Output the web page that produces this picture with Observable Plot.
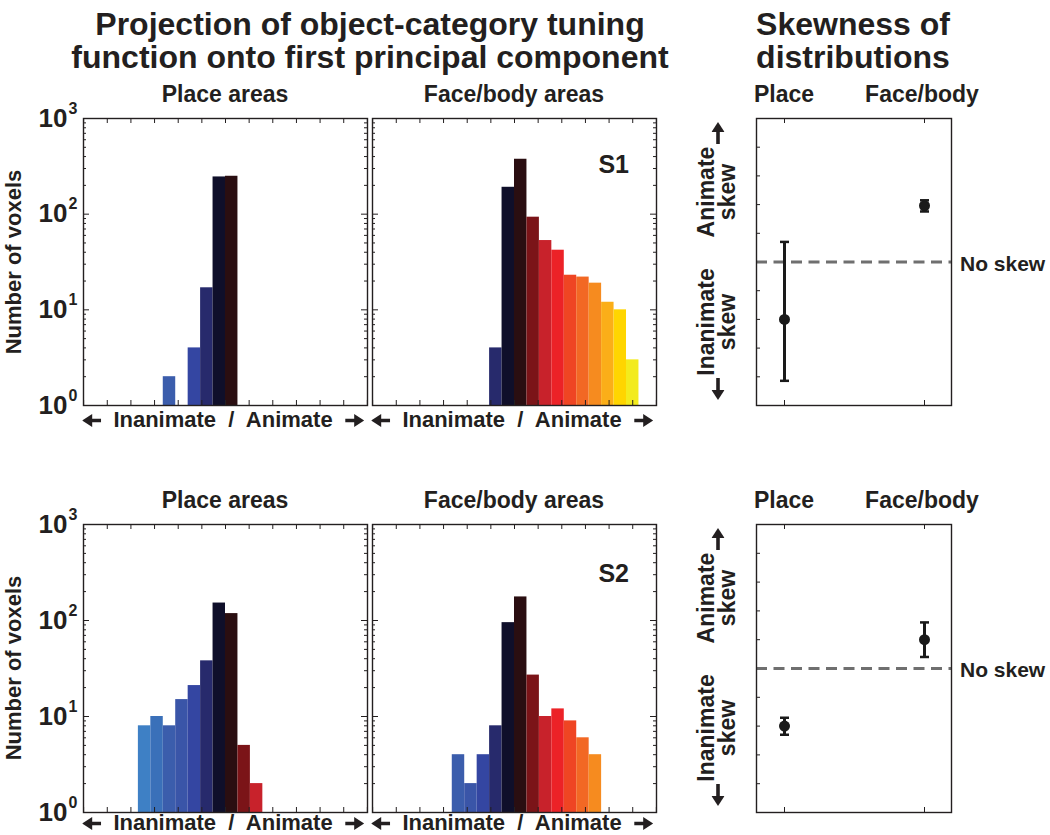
<!DOCTYPE html>
<html><head><meta charset="utf-8">
<script src="https://cdn.jsdelivr.net/npm/d3@7"></script>
<script src="https://cdn.jsdelivr.net/npm/@observablehq/plot@0.6"></script>
<style>
body{margin:0;background:#fff;}
#root{position:relative;width:1050px;height:835px;overflow:hidden;background:#fff;font-family:"Liberation Sans",Arial,Helvetica,sans-serif;font-weight:bold;color:#231f20;}
.lbl{position:absolute;white-space:nowrap;line-height:1;}
.arr{display:inline-block;vertical-align:0px;}
</style></head><body><div id="root"></div>
<script>
// ---------- DATA ----------
const binIds    = [-7, -6, -5, -4, -3, -2, -1, 0, 1, 2, 3, 4, 5, 6, 7, 8, 9];
const binColors = ["#3e80c5","#3a70b9","#3b5dac","#3a55a8","#3446a2","#272a6c","#0f0f2a","#2a0e11",
                   "#7b1418","#c8222b","#ec2227","#ef4523","#f26824","#f68b1f","#fbae18","#ffd500","#f3eb1d"];

const s1PlaceBins   = [-5, -3, -2, -1, 0];
const s1PlaceCounts = [2, 4, 17, 245, 249];
const s1FaceBins    = [-2, -1, 0, 1, 2, 3, 4, 5, 6, 7, 8, 9];
const s1FaceCounts  = [4, 191, 375, 93, 53, 42, 23, 22, 19, 12, 10, 3];
const s2PlaceBins   = [-7, -6, -5, -4, -3, -2, -1, 0, 1, 2];
const s2PlaceCounts = [8, 10, 8, 15, 21, 38, 152, 118, 5, 2];
const s2FaceBins    = [-5, -4, -3, -2, -1, 0, 1, 2, 3, 4, 5, 6];
const s2FaceCounts  = [4, 2, 4, 8, 95, 176, 27, 10, 12, 9, 6, 4];

const xTicks     = [-11.4, -9.5, -7.6, -5.7, -3.8, -1.9, 0, 1.9, 3.8, 5.7, 7.6, 9.5, 11.4];
const yMajor     = [1, 10, 100, 1000];
const yExponents = ["0", "1", "2", "3"];
const yMinor     = [2,3,4,5,6,7,8,9,20,30,40,50,60,70,80,90,200,300,400,500,600,700,800,900];

const skewGroups = ["Place", "Face/body"];
const s1Skew = [-2.0, 1.96];
const s1Lo   = [-4.14, 1.76];
const s1Hi   = [0.7, 2.15];
const s2Skew = [-2.0, 1.0];
const s2Lo   = [-2.30, 0.40];
const s2Hi   = [-1.71, 1.60];
const skewTicks = [-4, -3, -2, -1, 0, 1, 2, 3, 4];

// ---------- LAYOUT ----------
const INK = "#231f20";
const FONT = "'Liberation Sans', Arial, Helvetica, sans-serif";
const root = document.getElementById("root");
const X_DOMAIN = [-11.41, 11.41];

function arrow(rotDeg, len) {
  const h = 13, L = len;
  const horiz = rotDeg % 180 === 0;
  return `<svg class="arr" width="${horiz ? L : h}" height="${horiz ? h : L}" viewBox="${horiz ? `0 0 ${L} ${h}` : `0 0 ${h} ${L}`}">
    <g transform="${horiz ? `rotate(${rotDeg} ${L/2} ${h/2})` : `translate(${h/2} ${L/2}) rotate(${rotDeg}) translate(${-L/2} ${-h/2})`}">
      <line x1="0" y1="${h/2}" x2="${L-8}" y2="${h/2}" stroke="${INK}" stroke-width="3.6"/>
      <polygon points="${L-10},0 ${L},${h/2} ${L-10},${h}" fill="${INK}"/>
    </g></svg>`;
}

function txt(html, x, baseline, size, align = "center") {
  const d = document.createElement("div");
  d.className = "lbl";
  d.innerHTML = html;
  d.style.fontSize = size + "px";
  d.style.left = x + "px";
  d.style.top = (baseline - 0.847 * size) + "px";
  d.style.transform = align === "center" ? "translateX(-50%)" : align === "right" ? "translateX(-100%)" : "none";
  if (align === "center") d.style.textAlign = "center";
  root.append(d);
  return d;
}
function box(html, cx, cy) {
  const d = document.createElement("div");
  d.className = "lbl";
  d.innerHTML = html;
  d.style.left = cx + "px";
  d.style.top = cy + "px";
  d.style.transform = "translate(-50%,-50%)";
  d.style.lineHeight = "0";
  root.append(d);
}
function rot(html, cx, cy, size, lh) {
  const d = document.createElement("div");
  d.className = "lbl";
  d.innerHTML = html;
  d.style.fontSize = size + "px";
  d.style.lineHeight = lh + "px";
  d.style.textAlign = "center";
  d.style.left = cx + "px";
  d.style.top = cy + "px";
  d.style.transform = "translate(-50%,-50%) rotate(-90deg)";
  root.append(d);
  return d;
}
function put(svg, left, top) {
  svg.style.position = "absolute";
  svg.style.left = left + "px";
  svg.style.top = top + "px";
  root.append(svg);
}

function histogram(bins, counts, fr, showY) {
  const data = bins.map((b, i) => ({bin: b, count: counts[i]}));
  const W = fr.x1 - fr.x0, H = fr.y1 - fr.y0;
  const m = 2, mL = showY ? fr.x0 : m;
  const marks = [
    Plot.rect(data, {x1: "bin", x2: d => d.bin + 1, y1: 1, y2: "count", fill: "bin"}),
    Plot.tickX(xTicks, {x: d => d, insetBottom: H - 5, stroke: INK}),
    Plot.tickX(xTicks, {x: d => d, insetTop: H - 5, stroke: INK}),
    Plot.tickY(yMajor, {y: d => d, insetRight: W - 6, stroke: INK}),
    Plot.tickY(yMajor, {y: d => d, insetLeft: W - 6, stroke: INK}),
    Plot.tickY(yMinor, {y: d => d, insetRight: W - 3, stroke: INK}),
    Plot.tickY(yMinor, {y: d => d, insetLeft: W - 3, stroke: INK}),
    Plot.frame({stroke: INK, strokeWidth: 1.4})
  ];
  if (showY) {
    marks.push(
      Plot.text(yMajor, {y: d => d, frameAnchor: "left", text: () => "10", textAnchor: "end",
        dx: -16, fontSize: 26, fontWeight: "bold", fill: INK}),
      Plot.text(yMajor, {y: d => d, frameAnchor: "left", text: (d, i) => yExponents[i], textAnchor: "start",
        dx: -15, dy: -10, fontSize: 16, fontWeight: "bold", fill: INK})
    );
  }
  const svg = Plot.plot({
    width: W + mL + m, height: H + 2 * m,
    marginLeft: mL, marginRight: m, marginTop: m, marginBottom: m,
    style: {background: "transparent", fontFamily: FONT, color: INK, overflow: "visible"},
    x: {domain: X_DOMAIN, axis: null},
    y: {type: "log", domain: [1, 1000], axis: null},
    color: {type: "ordinal", domain: binIds, range: binColors},
    marks
  });
  put(svg, fr.x0 - mL, fr.y0 - m);
}

const capSymbol = {draw(ctx, size) { const r = Math.sqrt(size / Math.PI); ctx.moveTo(-r, 0); ctx.lineTo(r, 0); }};

function skewPlot(vals, lo, hi, fr) {
  const data = skewGroups.map((g, i) => ({g, v: vals[i], lo: lo[i], hi: hi[i]}));
  const W = fr.x1 - fr.x0, H = fr.y1 - fr.y0;
  const m = 2;
  const svg = Plot.plot({
    width: W + 2 * m, height: H + 2 * m,
    marginLeft: m, marginRight: m, marginTop: m, marginBottom: m,
    style: {background: "transparent", fontFamily: FONT, color: INK, overflow: "visible"},
    x: {type: "point", domain: skewGroups, padding: 0.195, axis: null},
    y: {domain: [-5, 5], axis: null},
    marks: [
      Plot.tickY(skewTicks, {y: d => d, insetRight: W - 4, stroke: INK}),
      Plot.tickX(skewGroups, {x: d => d, insetBottom: H - 5, stroke: INK}),
      Plot.tickX(skewGroups, {x: d => d, insetTop: H - 5, stroke: INK}),
      Plot.ruleY([0], {stroke: "#6f6f6f", strokeWidth: 3, strokeDasharray: "11,6.5"}),
      Plot.ruleX(data, {x: "g", y1: "lo", y2: "hi", stroke: "#1a1a1a", strokeWidth: 3}),
      Plot.dot(data, {x: "g", y: "lo", symbol: capSymbol, r: 4.5, stroke: "#1a1a1a", strokeWidth: 2.5}),
      Plot.dot(data, {x: "g", y: "hi", symbol: capSymbol, r: 4.5, stroke: "#1a1a1a", strokeWidth: 2.5}),
      Plot.dot(data, {x: "g", y: "v", r: 5.5, fill: "#1a1a1a"}),
      Plot.frame({stroke: INK, strokeWidth: 1.4})
    ]
  });
  put(svg, fr.x0 - m, fr.y0 - m);
}

// ---------- FRAMES ----------
const rows = [
  {y0: 118, y1: 405, xlab: 428, place: [s1PlaceBins, s1PlaceCounts], face: [s1FaceBins, s1FaceCounts], skew: [s1Skew, s1Lo, s1Hi], tag: "S1"},
  {y0: 524, y1: 812, xlab: 831, place: [s2PlaceBins, s2PlaceCounts], face: [s2FaceBins, s2FaceCounts], skew: [s2Skew, s2Lo, s2Hi], tag: "S2"}
];
const colP = {x0: 83, x1: 367}, colF = {x0: 372, x1: 656}, colS = {x0: 756, x1: 951};

// titles
txt("Projection of object-category tuning", 370, 35, 32);
txt("function onto first principal component", 370, 68, 32);
txt("Skewness of", 853, 35, 32);
txt("distributions", 853, 68, 32);

rows.forEach(r => {
  const dy = r.y0 - 118;
  histogram(r.place[0], r.place[1], {x0: colP.x0, x1: colP.x1, y0: r.y0, y1: r.y1}, true);
  histogram(r.face[0], r.face[1], {x0: colF.x0, x1: colF.x1, y0: r.y0, y1: r.y1}, false);
  skewPlot(r.skew[0], r.skew[1], r.skew[2], {x0: colS.x0, x1: colS.x1, y0: r.y0, y1: r.y1});

  txt("Place areas", (colP.x0 + colP.x1) / 2, 102 + dy, 23);
  txt("Face/body areas", (colF.x0 + colF.x1) / 2, 102 + dy, 23);
  txt("Place", 784, 102 + dy, 23);
  txt("Face/body", 922, 102 + dy, 23);
  txt(r.tag, 629, 173 + dy + (r.tag === "S2" ? 3 : 0), 25, "right");

  const xl = arrow(180, 19) + '&nbsp; Inanimate&nbsp; /&nbsp; Animate &nbsp;' + arrow(0, 19);
  txt(xl, (colP.x0 + colP.x1) / 2 - 2, r.xlab, 22);
  txt(xl, (colF.x0 + colF.x1) / 2 - 2, r.xlab, 22);

  rot("Number of voxels", 14, (r.y0 + r.y1) / 2, 22, 22);
  rot("Animate<br>skew", 717, 192 + dy, 23, 21);
  rot("Inanimate<br>skew", 717, 322 + dy, 23, 21);
  box(arrow(-90, 22), 718, 133 + dy);
  box(arrow(90, 22), 718, 389 + dy);
  txt("No skew", 960, 271 + dy, 21, "left");
});
</script></body></html>
